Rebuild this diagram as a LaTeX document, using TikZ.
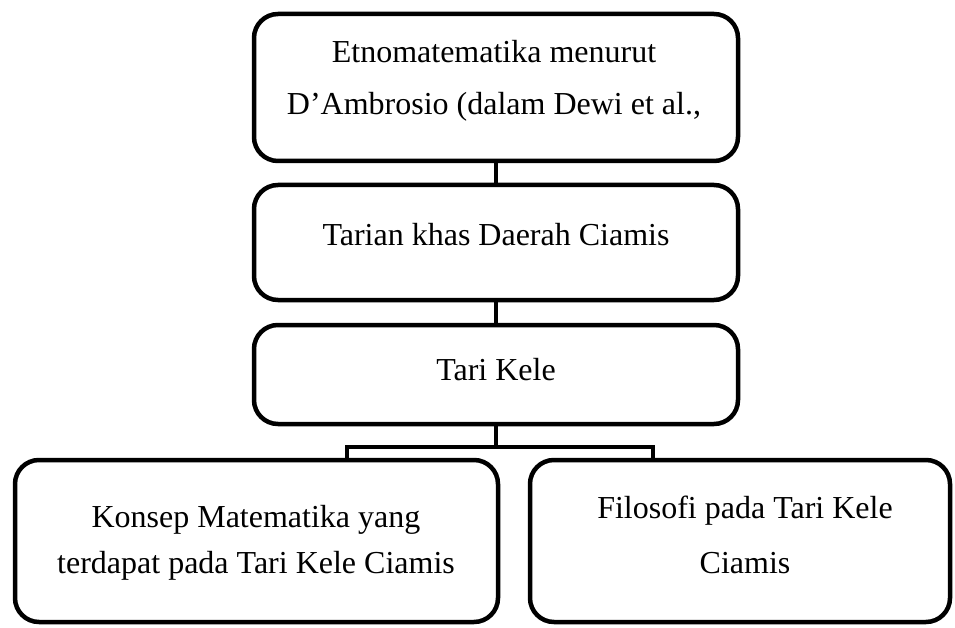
\documentclass[tikz,border=0pt]{standalone}
\usepackage{fontspec}
\setmainfont{Liberation Serif}

\begin{document}
\begin{tikzpicture}[x=1pt,y=1pt,
    kotak/.style={draw, line width=4.5pt, rounded corners=24pt, inner sep=0pt},
    teks/.style={font=\fontsize{32}{52}\selectfont, align=center, anchor=base, inner sep=0pt},
    garis/.style={line width=4pt}]
    \useasboundingbox (0,0) rectangle (955,-628);

    \node[kotak, minimum width=484pt, minimum height=147pt] (etno) at (496,-87.5) {};
    \node[kotak, minimum width=484pt, minimum height=115pt] (tarian) at (496,-242.5) {};
    \node[kotak, minimum width=484pt, minimum height=99pt] (kele) at (496,-374.5) {};
    \node[kotak, minimum width=483pt, minimum height=162pt] (konsep) at (256.5,-541) {};
    \node[kotak, minimum width=420pt, minimum height=162pt] (filosofi) at (740,-541) {};

    % base anchor sits on the last line
    \node[teks] (tEtno) at (494,-115) {Etnomatematika menurut\\ D’Ambrosio (dalam Dewi et al.,};
    \node[teks] (tTarian) at (496,-246) {Tarian khas Daerah Ciamis};
    \node[teks] (tKele) at (496,-380) {Tari Kele};
    \node[teks] (tKonsep) at (256,-573) {Konsep Matematika yang\\[-6pt] terdapat pada Tari Kele Ciamis};
    \node[teks] (tFilosofi) at (745,-573) {Filosofi pada Tari Kele\\[3pt] Ciamis};

    \coordinate (cabang) at (496,-447);
    \draw[garis] (etno) -- (tarian);
    \draw[garis] (tarian) -- (kele);
    \draw[garis] (kele) -- (cabang);
    \draw[garis] ([xshift=90.5pt]konsep.north) |- (cabang) -| ([xshift=-87pt]filosofi.north);
\end{tikzpicture}
\end{document}
